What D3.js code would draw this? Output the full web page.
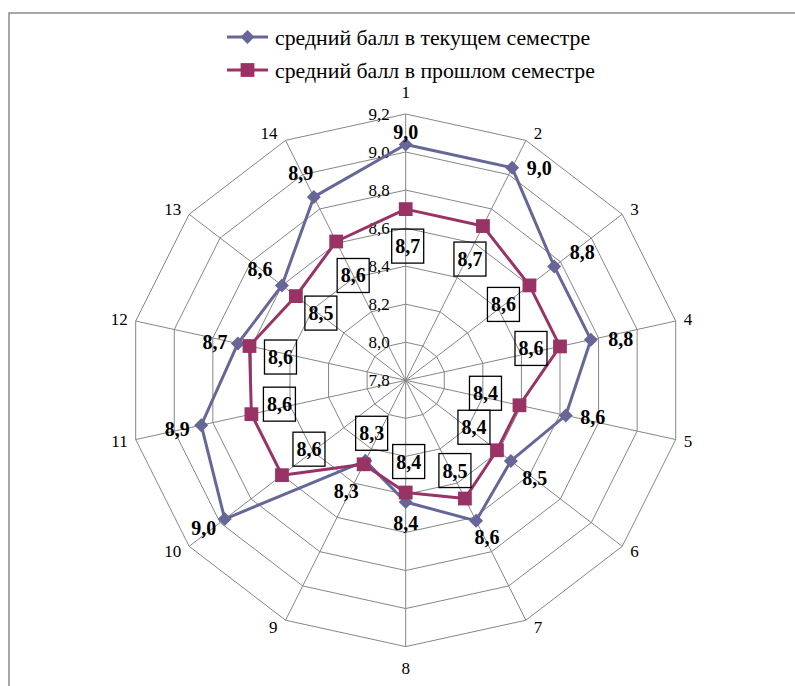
<!DOCTYPE html>
<html>
<head>
<meta charset="utf-8">
<script src="https://cdn.jsdelivr.net/npm/d3@7"></script>
<style>
  body { margin:0; background:#fff; }
</style>
</head>
<body>
<div id="chart"></div>
<script>
// data
const categories = ['1','2','3','4','5','6','7','8','9','10','11','12','13','14'];
const current  = [9.04, 9.04, 8.76, 8.76, 8.63, 8.48, 8.62, 8.44, 8.27, 8.97, 8.86, 8.67, 8.60, 8.87];
const previous = [8.70, 8.70, 8.60, 8.60, 8.39, 8.39, 8.49, 8.39, 8.29, 8.60, 8.60, 8.61, 8.51, 8.61];
const tickValues = [7.8, 8.0, 8.2, 8.4, 8.6, 8.8, 9.0, 9.2];
const seriesNames = ['средний балл в текущем семестре', 'средний балл в прошлом семестре'];

// hand placed label offsets (as in the original)
const curLabelShift  = [[0,-12],[27,0],[28,-14],[30,-1],[27,2],[24,17],[11,16],[0,21],[-19,30],[-21,9],[-24,4],[-23,-1],[-22,-16],[-13,-24]];
const prevLabelShift = [[2,37],[-13,33],[-26,19],[-29,2],[-34,-12],[-23,-23],[-10,-28],[3,-31],[8,-31],[27,-26],[28,-10],[31,11],[25,17],[17,34]];

const width = 795, height = 686;
const cx = 405.7, cy = 380.3, R = 266.3, kx = 1.04;
const blue = '#666699', plum = '#993366', grid = '#868686';
const serif = '"Liberation Serif"';

const svg = d3.select('#chart').append('svg').attr('width', width).attr('height', height);

// outer frame (runs past right and bottom edges)
svg.append('path').attr('d', 'M9,700V13H800').attr('fill','none').attr('stroke','#8a8a8a').attr('stroke-width',1.5);

const r = d3.scaleLinear().domain([7.8, 9.2]).range([0, R]);
const ang = d3.scaleLinear().domain([0, categories.length]).range([0, 2*Math.PI]);
const pt = (i, v) => [cx + kx*r(v)*Math.sin(ang(i)), cy - r(v)*Math.cos(ang(i))];
const fmt = v => d3.format('.1f')(v).replace('.', ',');

const g = svg.append('g');

// rings
tickValues.slice(1).forEach(t => {
  g.append('path')
    .attr('d', d3.line().curve(d3.curveLinearClosed)(categories.map((c,i)=>pt(i,t))))
    .attr('fill','none').attr('stroke',grid).attr('stroke-width',1);
});
// spokes
categories.forEach((c,i) => {
  const p = pt(i, 9.2);
  g.append('line').attr('x1',cx).attr('y1',cy).attr('x2',p[0]).attr('y2',p[1])
    .attr('stroke',grid).attr('stroke-width',1);
});

// tick labels along axis 1
g.selectAll('text.tick').data(tickValues).join('text').attr('class','tick')
  .attr('x', cx - 16).attr('y', d => cy - r(d)).attr('dy','0.35em')
  .attr('text-anchor','end').attr('font-size',17).attr('fill','#000')
  .style('font-family', serif)
  .text(d => fmt(d));

// category labels
g.selectAll('text.cat').data(categories).join('text').attr('class','cat')
  .each(function(d,i){
    const a = ang(i), s = Math.sin(a), c = Math.cos(a);
    const p = pt(i, 9.2);
    const t = d3.select(this);
    if (Math.abs(s) < 0.1) {
      t.attr('x', p[0]).attr('y', p[1] + (c > 0 ? -22 : 21)).attr('text-anchor','middle');
    } else {
      t.attr('x', p[0] + (s > 0 ? 8 : -8)).attr('y', p[1] - c*8).attr('text-anchor', s > 0 ? 'start' : 'end');
    }
  })
  .attr('dy','0.35em').attr('font-size',17).attr('fill','#000')
  .style('font-family', serif)
  .text(d => d);

// series
const line = d3.line().curve(d3.curveLinearClosed);
const diamond = d3.symbol().type(d3.symbolSquare).size(98);
const square = d3.symbol().type(d3.symbolSquare).size(190);

g.append('path').attr('d', line(current.map((v,i)=>pt(i,v))))
  .attr('fill','none').attr('stroke',blue).attr('stroke-width',3).attr('stroke-linejoin','round');
g.append('path').attr('d', line(previous.map((v,i)=>pt(i,v))))
  .attr('fill','none').attr('stroke',plum).attr('stroke-width',3).attr('stroke-linejoin','round');

g.selectAll('path.mk-cur').data(current).join('path').attr('class','mk-cur')
  .attr('d', diamond)
  .attr('transform', (d,i) => { const p = pt(i,d); return `translate(${p[0]},${p[1]}) rotate(45)`; })
  .attr('fill', blue);
g.selectAll('path.mk-prev').data(previous).join('path').attr('class','mk-prev')
  .attr('d', square)
  .attr('transform', (d,i) => { const p = pt(i,d); return `translate(${p[0]},${p[1]})`; })
  .attr('fill', plum);

// labels for current semester
g.selectAll('text.lab-cur').data(current).join('text').attr('class','lab-cur')
  .attr('x', (d,i) => pt(i,d)[0] + curLabelShift[i][0])
  .attr('y', (d,i) => pt(i,d)[1] + curLabelShift[i][1])
  .attr('dy','0.35em').attr('text-anchor','middle')
  .attr('font-size',20).attr('font-weight','bold').attr('fill','#000')
  .style('font-family', serif)
  .text(d => fmt(d));

// boxed labels for previous semester
const boxes = g.selectAll('g.lab-prev').data(previous).join('g').attr('class','lab-prev')
  .attr('transform', (d,i) => {
    const p = pt(i,d);
    return `translate(${p[0] + prevLabelShift[i][0]},${p[1] + prevLabelShift[i][1]})`;
  });
boxes.append('rect').attr('x',-16).attr('y',-17).attr('width',32).attr('height',34)
  .attr('fill','none').attr('stroke','#000').attr('stroke-width',1.3);
boxes.append('text').attr('dy','0.35em').attr('text-anchor','middle')
  .attr('font-size',20).attr('font-weight','bold').attr('fill','#000')
  .style('font-family', serif)
  .text(d => fmt(d));

// legend
const legend = svg.append('g');
seriesNames.forEach((name, k) => {
  const y = k === 0 ? 37 : 70;
  const col = k === 0 ? blue : plum;
  legend.append('line').attr('x1',227).attr('x2',268).attr('y1',y).attr('y2',y)
    .attr('stroke',col).attr('stroke-width',3);
  legend.append('path').attr('d', k === 0 ? diamond() : square())
    .attr('transform', `translate(247.5,${y})` + (k === 0 ? ' rotate(45)' : ''))
    .attr('fill', col);
  legend.append('text').attr('x',275).attr('y',y).attr('dy','0.35em')
    .attr('font-size',21.8).attr('fill','#000')
    .style('font-family', serif)
    .text(name);
});
</script>
</body>
</html>
